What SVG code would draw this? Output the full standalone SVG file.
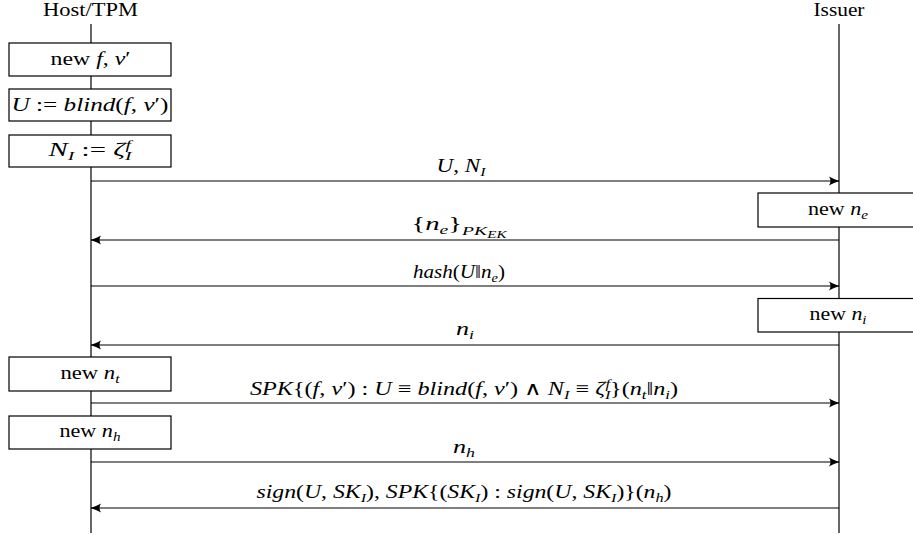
<svg xmlns="http://www.w3.org/2000/svg" width="913" height="535" viewBox="0 0 913 535">
<style>
.t{font-family:"Liberation Serif","DejaVu Serif",serif;font-size:19px;fill:#000}
.i{font-style:italic}
.s{font-size:13px}
.ss{font-size:10px}
.ll{stroke:#000;stroke-width:1.2;fill:none}
.box{fill:#fff;stroke:#000;stroke-width:1.2}
.msg{stroke:#000;stroke-width:1.2;fill:none}
.fw{marker-end:url(#ah)}
</style>
<defs>
<marker id="ah" viewBox="-11 -5 12 10" refX="0" refY="0" markerWidth="12" markerHeight="10" markerUnits="userSpaceOnUse" orient="auto">
<path d="M0.5,0 C-3,-1 -7,-3 -10,-4.5 C-8,-1.5 -8,1.5 -10,4.5 C-7,3 -3,1 0.5,0 Z" fill="#000"/>
</marker>
</defs>
<rect width="913" height="535" fill="#fff"/>
<g id="host">
<text class="t" x="90.5" y="16" text-anchor="middle" textLength="95" lengthAdjust="spacingAndGlyphs">Host/TPM</text>
<line class="ll" x1="91" y1="24" x2="91" y2="533"/>
</g>
<g id="issuer">
<text class="t" x="839" y="16" text-anchor="middle" textLength="51" lengthAdjust="spacingAndGlyphs">Issuer</text>
<line class="ll" x1="839" y1="24" x2="839" y2="533"/>
</g>
<g id="connectors">
<line class="msg fw" x1="91" y1="181" x2="839" y2="181"/>
<text class="t" x="461" y="172" text-anchor="middle" textLength="49" lengthAdjust="spacingAndGlyphs"><tspan class="i">U</tspan>, <tspan class="i">N</tspan><tspan class="i s" dy="4">I</tspan></text>
<line class="msg fw" x1="839" y1="240" x2="91" y2="240"/>
<text class="t" x="459" y="230" text-anchor="middle" textLength="95" lengthAdjust="spacingAndGlyphs">{<tspan class="i">n</tspan><tspan class="i s" dy="4">e</tspan><tspan dy="-4">}</tspan><tspan class="i s" dy="5">PK</tspan><tspan class="i ss" dy="3">EK</tspan></text>
<line class="msg fw" x1="91" y1="286" x2="839" y2="286"/>
<text class="t" x="459" y="278" text-anchor="middle" textLength="92" lengthAdjust="spacingAndGlyphs"><tspan class="i">hash</tspan>(<tspan class="i">U</tspan>‖<tspan class="i">n</tspan><tspan class="i s" dy="4">e</tspan><tspan dy="-4">)</tspan></text>
<line class="msg fw" x1="839" y1="345" x2="91" y2="345"/>
<text class="t" x="465" y="335" text-anchor="middle" textLength="18" lengthAdjust="spacingAndGlyphs"><tspan class="i">n</tspan><tspan class="i s" dy="4">i</tspan></text>
<line class="msg fw" x1="91" y1="403" x2="839" y2="403"/>
<text class="t" x="464" y="395" text-anchor="middle" textLength="428" lengthAdjust="spacingAndGlyphs"><tspan class="i">SPK</tspan>{(<tspan class="i">f</tspan>, <tspan class="i">v</tspan>′) : <tspan class="i">U</tspan> ≡ <tspan class="i">blind</tspan>(<tspan class="i">f</tspan>, <tspan class="i">v</tspan>′) ∧ <tspan class="i">N</tspan><tspan class="i s" dy="4">I</tspan><tspan dy="-4"> ≡ </tspan><tspan class="i">ζ</tspan><tspan class="i s" dy="4">I</tspan><tspan class="i s" dx="-4" dy="-11">f</tspan><tspan dy="7">}(</tspan><tspan class="i">n</tspan><tspan class="i s" dy="4">t</tspan><tspan dy="-4">‖</tspan><tspan class="i">n</tspan><tspan class="i s" dy="4">i</tspan><tspan dy="-4">)</tspan></text>
<line class="msg fw" x1="91" y1="462" x2="839" y2="462"/>
<text class="t" x="464" y="453" text-anchor="middle" textLength="22" lengthAdjust="spacingAndGlyphs"><tspan class="i">n</tspan><tspan class="i s" dy="4">h</tspan></text>
<line class="msg fw" x1="839" y1="508" x2="91" y2="508"/>
<text class="t" x="464" y="498" text-anchor="middle" textLength="415" lengthAdjust="spacingAndGlyphs"><tspan class="i">sign</tspan>(<tspan class="i">U</tspan>, <tspan class="i">SK</tspan><tspan class="i s" dy="4">I</tspan><tspan dy="-4">), </tspan><tspan class="i">SPK</tspan>{(<tspan class="i">SK</tspan><tspan class="i s" dy="4">I</tspan><tspan dy="-4">) : </tspan><tspan class="i">sign</tspan>(<tspan class="i">U</tspan>, <tspan class="i">SK</tspan><tspan class="i s" dy="4">I</tspan><tspan dy="-4">)}(</tspan><tspan class="i">n</tspan><tspan class="i s" dy="4">h</tspan><tspan dy="-4">)</tspan></text>
</g>
<g id="new-fv">
<rect class="box" x="9" y="43" width="162" height="33"/>
<text class="t" x="90.5" y="65" text-anchor="middle" textLength="80" lengthAdjust="spacingAndGlyphs">new <tspan class="i">f</tspan>, <tspan class="i">v</tspan>′</text>
</g>
<g id="blind">
<rect class="box" x="9" y="89" width="162" height="32"/>
<text class="t" x="90" y="111" text-anchor="middle" textLength="157" lengthAdjust="spacingAndGlyphs"><tspan class="i">U</tspan> := <tspan class="i">blind</tspan>(<tspan class="i">f</tspan>, <tspan class="i">v</tspan>′)</text>
</g>
<g id="ni-zeta">
<rect class="box" x="9" y="135" width="162" height="32"/>
<text class="t" x="90" y="156" text-anchor="middle" textLength="83" lengthAdjust="spacingAndGlyphs"><tspan class="i">N</tspan><tspan class="i s" dy="4">I</tspan><tspan dy="-4"> := </tspan><tspan class="i">ζ</tspan><tspan class="i s" dy="4">I</tspan><tspan class="i s" dx="-4" dy="-11">f</tspan></text>
</g>
<g id="new-ne">
<rect class="box" x="758" y="193" width="162" height="34"/>
<text class="t" x="838" y="215" text-anchor="middle" textLength="60" lengthAdjust="spacingAndGlyphs">new <tspan class="i">n</tspan><tspan class="i s" dy="4">e</tspan></text>
</g>
<g id="new-ni">
<rect class="box" x="758" y="298.5" width="162" height="33.5"/>
<text class="t" x="838" y="320" text-anchor="middle" textLength="57" lengthAdjust="spacingAndGlyphs">new <tspan class="i">n</tspan><tspan class="i s" dy="4">i</tspan></text>
</g>
<g id="new-nt">
<rect class="box" x="9" y="357" width="162" height="34"/>
<text class="t" x="90" y="379" text-anchor="middle" textLength="59" lengthAdjust="spacingAndGlyphs">new <tspan class="i">n</tspan><tspan class="i s" dy="4">t</tspan></text>
</g>
<g id="new-nh">
<rect class="box" x="9" y="416" width="162" height="33"/>
<text class="t" x="90" y="437" text-anchor="middle" textLength="61" lengthAdjust="spacingAndGlyphs">new <tspan class="i">n</tspan><tspan class="i s" dy="4">h</tspan></text>
</g>
</svg>
